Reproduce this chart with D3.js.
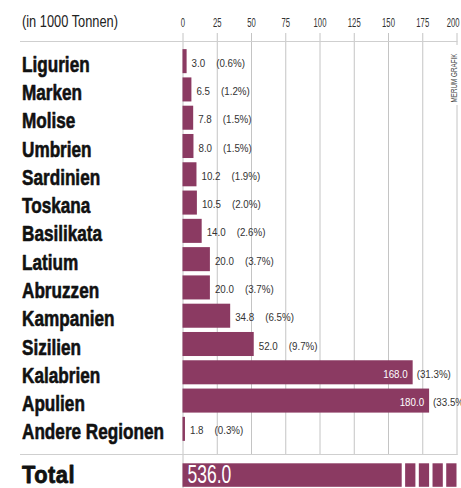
<!DOCTYPE html>
<html><head><meta charset="utf-8">
<script src="https://cdn.jsdelivr.net/npm/d3@7"></script>
<style>
body{margin:0;background:#fff;}
svg{display:block;}
</style></head>
<body>
<svg id="c" width="461" height="488"></svg>
<script>
const regions = ["Ligurien","Marken","Molise","Umbrien","Sardinien","Toskana","Basilikata","Latium","Abruzzen","Kampanien","Sizilien","Kalabrien","Apulien","Andere Regionen"];
const values = [3.0,6.5,7.8,8.0,10.2,10.5,14.0,20.0,20.0,34.8,52.0,168.0,180.0,1.8];
const shares = ["0.6","1.2","1.5","1.5","1.9","2.0","2.6","3.7","3.7","6.5","9.7","31.3","33.5","0.3"];
const ticks = [0,25,50,75,100,125,150,175,200];
const totalLabel = "Total";
const totalValue = 536.0;
const unitLabel = "(in 1000 Tonnen)";
const credit = "MERUM GRAFIK";

const W = 461, H = 488;
const barColor = "#8b3a62";
const FONT = "'Liberation Sans',Arial,sans-serif";
const svg = d3.select("#c");

// condensed text helper: real text, horizontally compressed
function ctext(g, x, y, str, o){
  o = Object.assign({size:12, weight:"normal", sx:0.8, anchor:"start", fill:"#222", rotate:0}, o);
  const t = g.append("text")
    .attr("font-family", FONT).attr("font-size", o.size).attr("font-weight", o.weight)
    .attr("text-anchor", o.anchor).attr("fill", o.fill).text(str);
  if(o.ls) t.attr("letter-spacing", o.ls);
  if(o.stroke){ t.attr("stroke", o.fill).attr("stroke-width", o.stroke).attr("stroke-linejoin","round"); }
  let sx = o.sx;
  if(o.fitWidth){ sx = o.fitWidth / t.node().getComputedTextLength(); }
  t.attr("transform", `translate(${x},${y})` + (o.rotate?` rotate(${o.rotate})`:"") + ` scale(${sx},1)`);
  t.datum({sx});
  return t;
}
const widthOf = t => t.node().getComputedTextLength()*t.datum().sx;

const x = d3.scaleLinear().domain([0,200]).range([182.5,456.5]);
const y = d3.scaleBand().domain(regions).range([47,443]).paddingInner(0.15).paddingOuter(0.075);

// header
ctext(svg, 22, 27, unitLabel, {size:16.5, fitWidth:96, fill:"#222"});

// grid
const gridTop = 33, gridBottom = 455;
svg.append("g").selectAll("line").data(ticks).join("line")
  .attr("x1",d=>x(d)+0.5).attr("x2",d=>x(d)+0.5)
  .attr("y1",gridTop).attr("y2",d=>d===0?H:gridBottom)
  .attr("stroke","#c4c4c4").attr("stroke-width",1);
svg.append("line").attr("x1",20).attr("x2",x(200)+1).attr("y1",41.5).attr("y2",41.5)
  .attr("stroke","#cfcfcf").attr("stroke-width",1.2);
svg.append("line").attr("x1",20).attr("x2",x(200)+1).attr("y1",454.5).attr("y2",454.5)
  .attr("stroke","#cfcfcf").attr("stroke-width",1.2);

// axis tick labels (positions from the scale)
const ag = svg.append("g");
ticks.forEach(d=>{
  const t = ctext(ag, x(d)+0.5, 26.5, String(d), {size:12, sx:0.64, anchor:"middle", fill:"#333"});
  const w = widthOf(t);
  if(x(d)+w/2 > W-1.5){
    t.attr("transform", `translate(${W-1.5},26.5) scale(0.64,1)`).attr("text-anchor","end");
  }
});

// credit
const cx = x(200) - 3;
svg.append("rect").attr("x",cx-5).attr("y",45).attr("width",10).attr("height",60).attr("fill","#fff");
ctext(svg, cx+3.5, 78, credit, {size:8.5, sx:0.74, anchor:"middle", fill:"#444", rotate:-90});

// category labels
const cg = svg.append("g");
regions.forEach(r=>{
  ctext(cg, 22, y(r)+y.bandwidth()/2+10.5, r, {size:22, weight:"bold", sx:0.78, fill:"#111", stroke:0.6});
});

// bars
const rows = regions.map((r,i)=>({r,v:values[i],s:shares[i]}));
svg.append("g").selectAll("rect").data(rows).join("rect")
  .attr("x",x(0)).attr("y",d=>y(d.r)).attr("width",d=>x(d.v)-x(0))
  .attr("height",y.bandwidth()).attr("fill",barColor);

// value labels
const LS = 0.85;
const lg = svg.append("g");
rows.forEach(d=>{
  const by = y(d.r)+y.bandwidth()/2+5.5;
  const xe = x(d.v);
  if(d.v>100){
    ctext(lg, xe-5, by, d.v.toFixed(1), {size:11.5, sx:LS, anchor:"end", fill:"#fff"});
    ctext(lg, xe+4, by, `(${d.s}%)`, {size:11.5, sx:LS, fill:"#333"});
  } else {
    const t = ctext(lg, xe+5, by, d.v.toFixed(1), {size:11.5, sx:LS, fill:"#333"});
    const w = widthOf(t);
    ctext(lg, xe+5+w+11, by, `(${d.s}%)`, {size:11.5, sx:LS, fill:"#333"});
  }
});

// total
const ty0 = 463.3, th = 23.5;
ctext(svg, 22, 482.7, totalLabel, {size:23, weight:"bold", sx:0.95, fill:"#111", ls:0.5, stroke:0.8});
const breakAt = 160, nSeg = 4, gapU = 2.5;
const segW = (200 - breakAt - gapU*nSeg)/nSeg;
const segs = [[0,breakAt]];
for(let i=0;i<nSeg;i++){const s=breakAt+gapU+i*(segW+gapU);segs.push([s,s+segW]);}
svg.append("g").selectAll("rect").data(segs).join("rect")
  .attr("x",d=>x(d[0])).attr("width",d=>x(d[1])-x(d[0]))
  .attr("y",ty0).attr("height",th).attr("fill",barColor);
ctext(svg, x(0)+5, 483.3, totalValue.toFixed(1), {size:25, sx:0.7, fill:"#fff"});
</script>
</body></html>
